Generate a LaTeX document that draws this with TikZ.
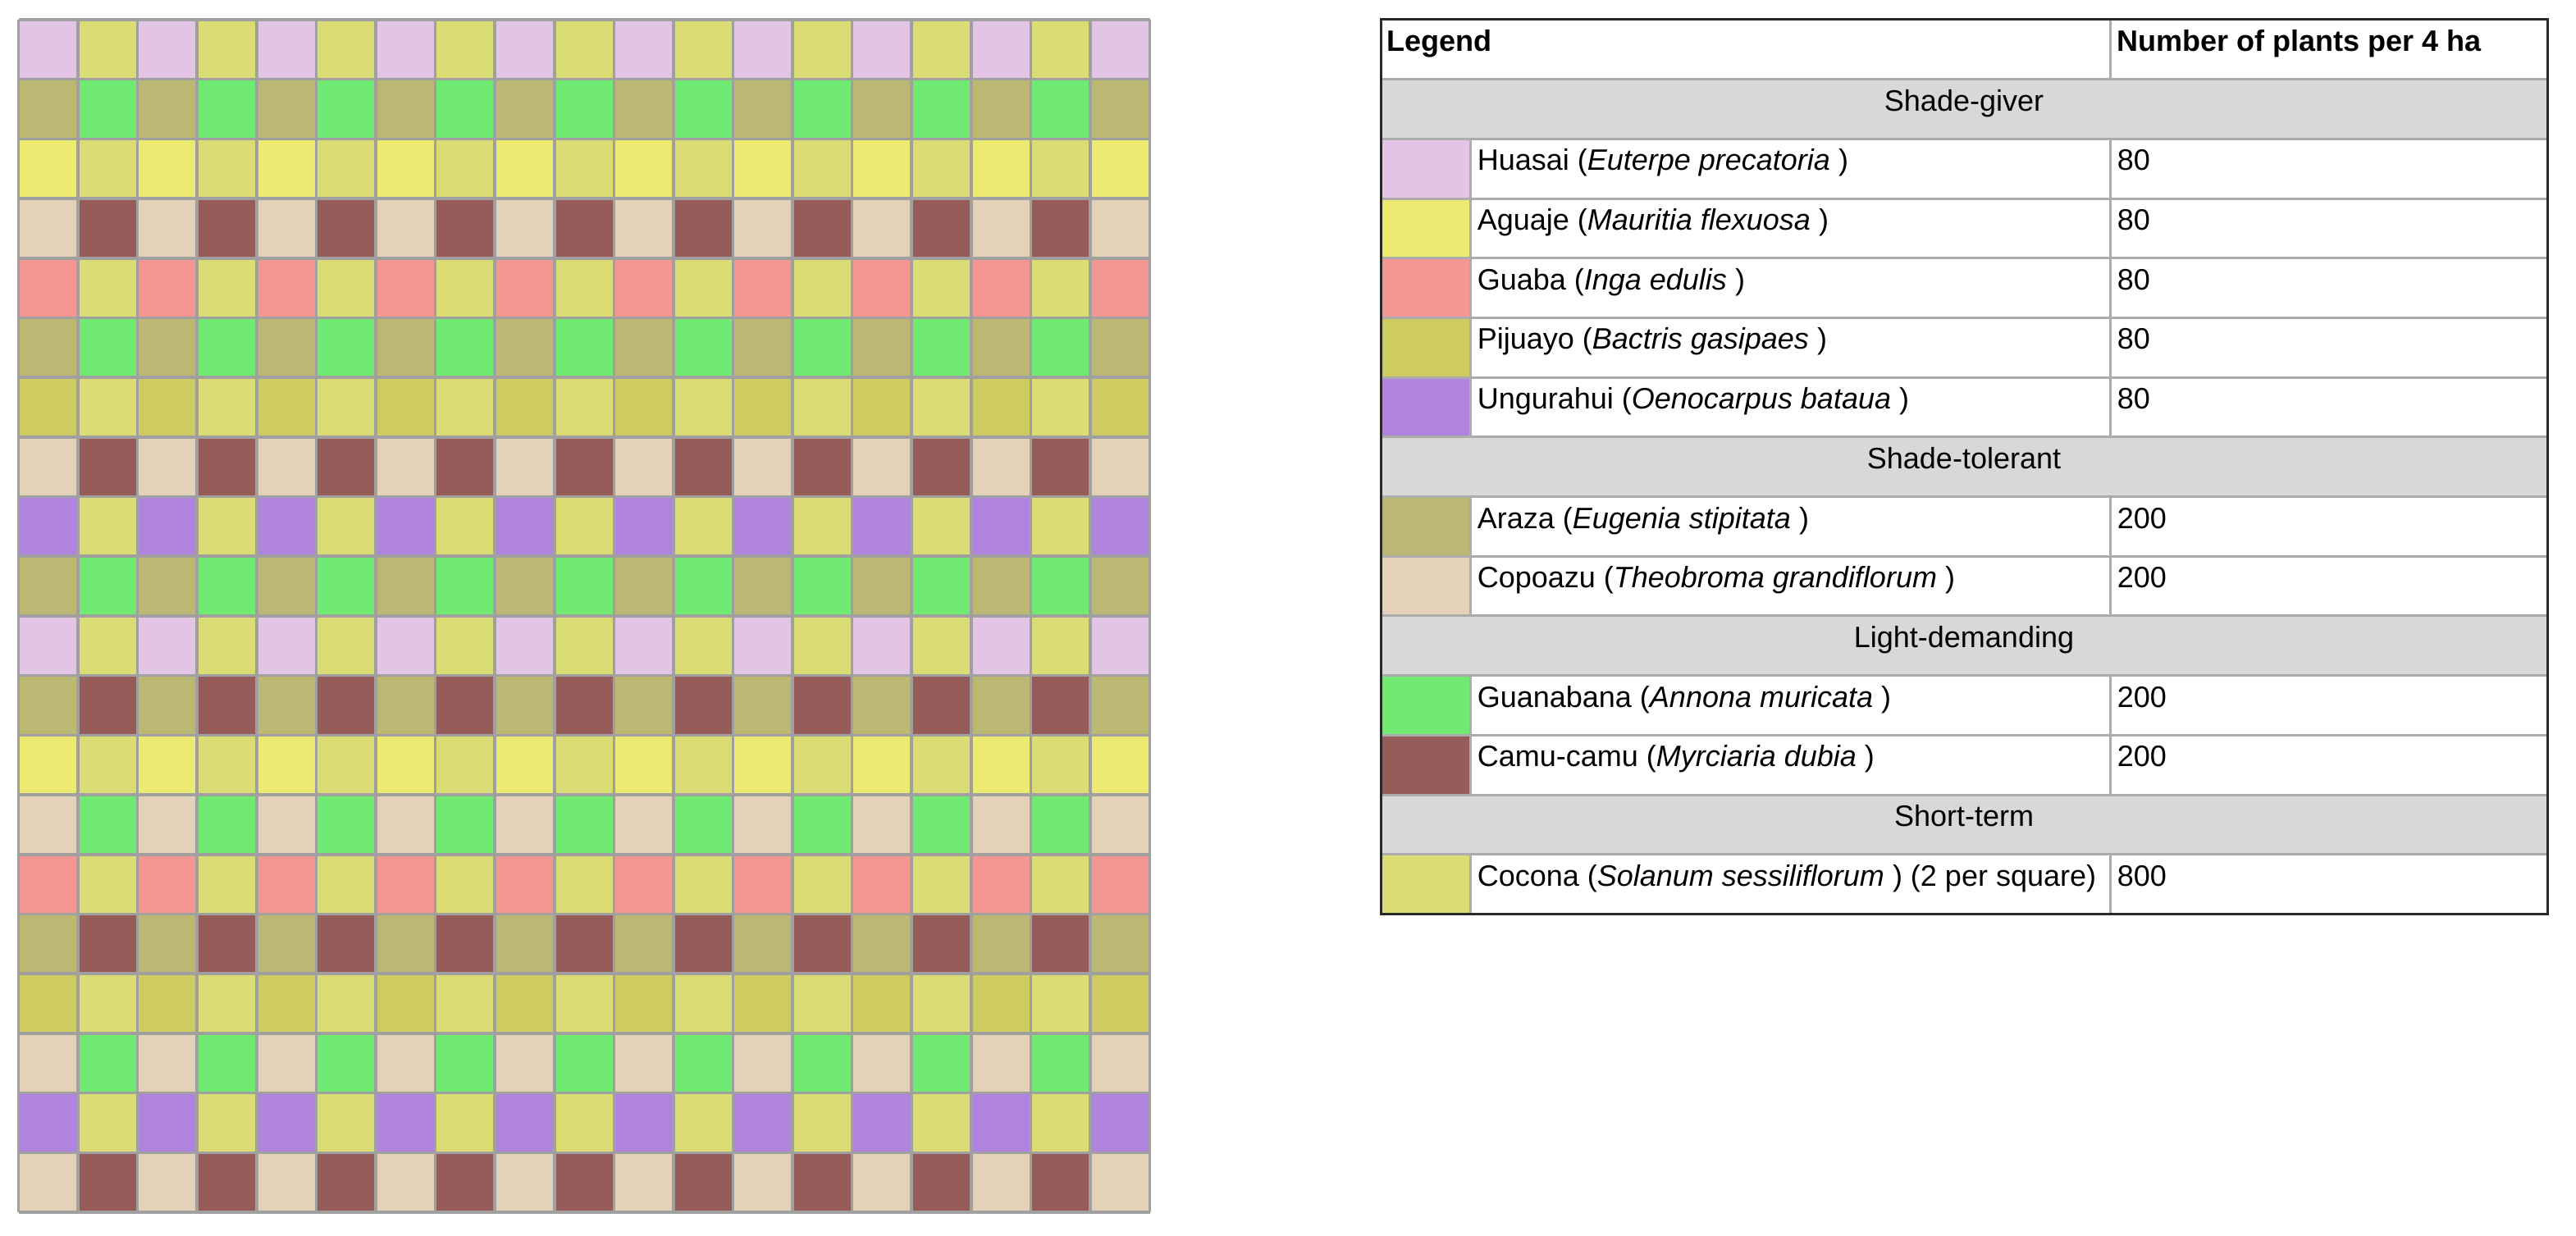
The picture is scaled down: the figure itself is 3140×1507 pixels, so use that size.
\documentclass[tikz,border=0pt]{standalone}
\usepackage{fontspec}
\setmainfont{Liberation Sans}
\definecolor{huasai}{RGB}{226,196,228}
\definecolor{aguaje}{RGB}{236,234,112}
\definecolor{guaba}{RGB}{244,150,146}
\definecolor{pijuayo}{RGB}{206,204,96}
\definecolor{ungurahui}{RGB}{176,132,222}
\definecolor{araza}{RGB}{188,184,116}
\definecolor{copoazu}{RGB}{228,210,184}
\definecolor{guanabana}{RGB}{112,234,112}
\definecolor{camu}{RGB}{150,92,90}
\definecolor{cocona}{RGB}{220,220,116}
\definecolor{hdrgrey}{RGB}{216,216,216}
\definecolor{gridgrey}{RGB}{160,160,160}
\definecolor{rulegrey}{RGB}{172,172,172}
\definecolor{bordercol}{RGB}{40,40,40}
\begin{document}
\begin{tikzpicture}[x=0.25pt,y=-0.25pt,
  gridline/.style={draw=gridgrey,line width=0.9pt},
  rule/.style={draw=rulegrey,line width=0.75pt},
  outer/.style={draw=bordercol,line width=0.75pt},
  txt/.style={anchor=base west,inner sep=0pt,font=\fontsize{9pt}{11pt}\selectfont},
  hdr/.style={anchor=base west,inner sep=0pt,font=\fontsize{9pt}{11pt}\selectfont\bfseries},
  cat/.style={anchor=base,inner sep=0pt,font=\fontsize{9pt}{11pt}\selectfont}]
\useasboundingbox (0,0) rectangle (3140,1507);
% ---------------- planting grid ----------------
\def\gx{22.5}\def\gy{24}\def\cw{72.58}\def\ch{72.7}
\foreach \a/\b [count=\r] in {huasai/cocona,araza/guanabana,aguaje/cocona,copoazu/camu,
  guaba/cocona,araza/guanabana,pijuayo/cocona,copoazu/camu,ungurahui/cocona,araza/guanabana,
  huasai/cocona,araza/camu,aguaje/cocona,copoazu/guanabana,guaba/cocona,araza/camu,
  pijuayo/cocona,copoazu/guanabana,ungurahui/cocona,copoazu/camu}{
  \foreach \c in {0,2,...,18}{
    \fill[\a] ({\gx+\c*\cw},{\gy+(\r-1)*\ch}) rectangle ++(\cw,\ch);}
  \foreach \c in {1,3,...,17}{
    \fill[\b] ({\gx+\c*\cw},{\gy+(\r-1)*\ch}) rectangle ++(\cw,\ch);}
}
\foreach \c in {0,...,19}{\draw[gridline] ({\gx+\c*\cw},\gy) -- ++(0,{20*\ch});}
\foreach \r in {0,...,20}{\draw[gridline] (\gx,{\gy+\r*\ch}) -- ++({19*\cw},0);}
% ---------------- legend table ----------------
\def\tl{1683}\def\tr{3105}\def\sw{1792}\def\sep{2572}\def\ty{24}\def\rh{72.7}
% category rows
\foreach \k/\t in {1/Shade-giver,7/Shade-tolerant,10/Light-demanding,13/Short-term}{
  \fill[hdrgrey] (\tl,{\ty+\k*\rh}) rectangle (\tr,{\ty+(\k+1)*\rh});
  \node[cat] (cat\k) at ({(\tl+\tr)/2},{\ty+\k*\rh+38.5}) {\t};
}
% species rows
\foreach \k/\col/\nm/\n in {
  2/huasai/{Huasai (\textit{Euterpe precatoria} )}/80,
  3/aguaje/{Aguaje (\textit{Mauritia flexuosa} )}/80,
  4/guaba/{Guaba (\textit{Inga edulis} )}/80,
  5/pijuayo/{Pijuayo (\textit{Bactris gasipaes} )}/80,
  6/ungurahui/{Ungurahui (\textit{Oenocarpus bataua} )}/80,
  8/araza/{Araza (\textit{Eugenia stipitata} )}/200,
  9/copoazu/{Copoazu (\textit{Theobroma grandiflorum} )}/200,
  11/guanabana/{Guanabana (\textit{Annona muricata} )}/200,
  12/camu/{Camu-camu (\textit{Myrciaria dubia} )}/200,
  14/cocona/{Cocona (\textit{Solanum sessiliflorum} ) (2 per square)}/800}{
  \fill[\col] (\tl,{\ty+\k*\rh}) rectangle (\sw,{\ty+(\k+1)*\rh});
  \draw[rule] (\sw,{\ty+\k*\rh}) -- (\sw,{\ty+(\k+1)*\rh});
  \draw[rule] (\sep,{\ty+\k*\rh}) -- (\sep,{\ty+(\k+1)*\rh});
  \node[txt] (name\k) at ({\sw+8},{\ty+\k*\rh+38.5}) {\nm};
  \node[txt] (num\k) at ({\sep+8},{\ty+\k*\rh+38.5}) {\n};
}
% header row
\draw[rule] (\sep,\ty) -- (\sep,{\ty+\rh});
\node[hdr] (legend) at ({\tl+7},{\ty+38.5}) {Legend};
\node[hdr] (number) at ({\sep+8},{\ty+38.5}) {Number of plants per 4 ha};
% horizontal rules
\foreach \k in {1,...,14}{\draw[rule] (\tl,{\ty+\k*\rh}) -- (\tr,{\ty+\k*\rh});}
% outer border
\draw[outer] (\tl,\ty) rectangle (\tr,{\ty+15*\rh});
\end{tikzpicture}
\end{document}
